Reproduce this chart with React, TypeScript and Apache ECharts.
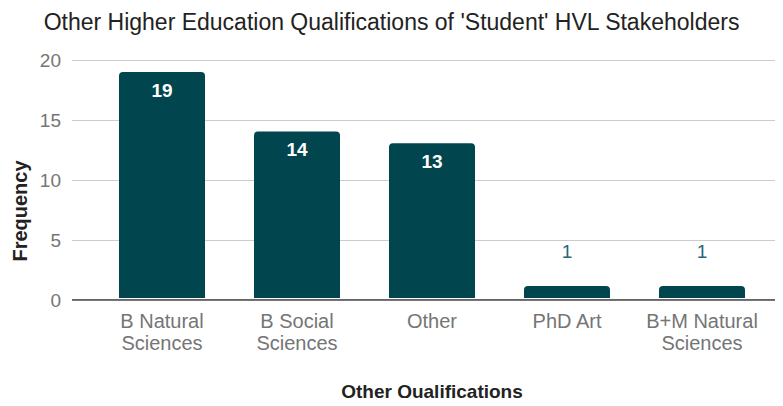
import React, { useEffect, useRef } from "react";
import * as echarts from "echarts";

const categories = ["B Natural\nSciences", "B Social\nSciences", "Other", "PhD Art", "B+M Natural\nSciences"];
const frequencies = [19, 14, 13, 1, 1];
const yTicks = [0, 5, 10, 15, 20];

const FONT = "'Liberation Sans', Arial, sans-serif";
const BAR = "#01454f";

export default function App() {
  const ref = useRef<HTMLDivElement>(null);
  useEffect(() => {
    const chart = echarts.init(ref.current!, null, { renderer: "svg" });
    const yMax = yTicks[yTicks.length - 1];
    chart.setOption({
      animation: false,
      textStyle: { fontFamily: FONT },
      title: {
        text: "Other Higher Education Qualifications of 'Student' HVL Stakeholders",
        left: "center",
        top: 5,
        textStyle: { fontFamily: FONT, fontSize: 23, fontWeight: "normal", color: "#222222" },
      },
      graphic: [
        {
          type: "text",
          x: 20,
          y: 211,
          rotation: Math.PI / 2,
          style: {
            text: "Frequency",
            fill: "#222222",
            font: `bold 20px ${FONT}`,
            align: "center",
            verticalAlign: "middle",
          },
        },
      ],
      grid: [
        { left: 72, right: 0, top: 60, height: 240 },
        { left: 94.5, width: 675, top: 60, height: 240 },
      ],
      xAxis: [
        { type: "value", gridIndex: 0, show: false, min: 0, max: 1 },
        {
          type: "category",
          gridIndex: 1,
          data: categories,
          axisLine: { show: false },
          axisTick: { show: false },
          axisLabel: { color: "#757575", fontSize: 20, lineHeight: 22, margin: 12, interval: 0, fontFamily: FONT },
          name: "Other Qualifications",
          nameLocation: "middle",
          nameGap: 84,
          nameTextStyle: { color: "#222222", fontSize: 19, fontWeight: "bold", fontFamily: FONT },
        },
      ],
      yAxis: [
        {
          type: "value",
          gridIndex: 0,
          min: 0,
          max: yMax,
          interval: 5,
          axisLine: { show: false },
          axisTick: { show: false },
          splitLine: { lineStyle: { color: "#cccccc", width: 1 } },
          axisLabel: { color: "#757575", fontSize: 19, margin: 11, fontFamily: FONT },
        },
        { type: "value", gridIndex: 1, min: 0, max: yMax, show: false },
      ],
      series: [
        {
          type: "line",
          xAxisIndex: 0,
          yAxisIndex: 0,
          data: [[0, 0], [1, 0]],
          symbol: "none",
          lineStyle: { color: "#333333", width: 1.5 },
          silent: true,
          z: 5,
        },
        {
          type: "bar",
          xAxisIndex: 1,
          yAxisIndex: 1,
          barWidth: 86,
          itemStyle: { color: BAR, borderRadius: [4, 4, 0, 0] },
          z: 3,
          data: frequencies.map((v) => ({
            value: v,
            label:
              v >= 3
                ? { show: true, position: "insideTop", distance: 9, color: "#ffffff", fontWeight: "bold", fontSize: 19, fontFamily: FONT }
                : { show: true, position: "top", distance: 25, color: "#2c6676", fontWeight: "normal", fontSize: 19, fontFamily: FONT },
          })),
        },
      ],
    });
    return () => chart.dispose();
  }, []);
  return <div ref={ref} style={{ width: 783, height: 406, margin: -8 }} />;
}
